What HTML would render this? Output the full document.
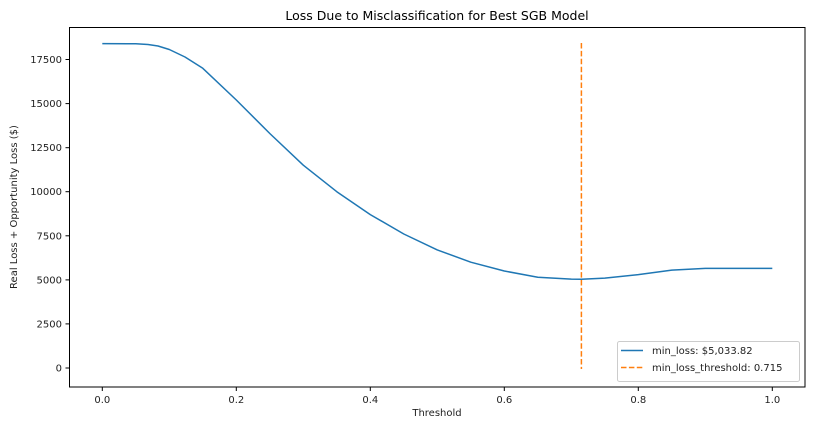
<!DOCTYPE html>
<html><head><style>body{margin:0;background:#fff}svg{font-family:"DejaVu Sans","Liberation Sans",sans-serif}</style></head>
<body>
<svg width="819" height="424" xmlns="http://www.w3.org/2000/svg">
<rect width="819" height="424" fill="#fff"/>
<text x="437" y="20" font-size="12.5" text-anchor="middle" fill="#000">Loss Due to Misclassification for Best SGB Model</text>
<rect x="69.5" y="27.5" width="735.5" height="359.5" fill="none" stroke="#000" stroke-width="1"/>
<g stroke="#000" stroke-width="1">
<line x1="102.3" y1="387" x2="102.3" y2="391"/><line x1="236.3" y1="387" x2="236.3" y2="391"/><line x1="370.3" y1="387" x2="370.3" y2="391"/><line x1="504.3" y1="387" x2="504.3" y2="391"/><line x1="638.3" y1="387" x2="638.3" y2="391"/><line x1="772.3" y1="387" x2="772.3" y2="391"/>
<line x1="65.5" y1="368" x2="69.5" y2="368"/><line x1="65.5" y1="323.9" x2="69.5" y2="323.9"/><line x1="65.5" y1="279.9" x2="69.5" y2="279.9"/><line x1="65.5" y1="235.8" x2="69.5" y2="235.8"/><line x1="65.5" y1="191.7" x2="69.5" y2="191.7"/><line x1="65.5" y1="147.7" x2="69.5" y2="147.7"/><line x1="65.5" y1="103.6" x2="69.5" y2="103.6"/><line x1="65.5" y1="59.5" x2="69.5" y2="59.5"/>
</g>
<g font-size="10" fill="#222" text-anchor="middle">
<text x="102.3" y="403">0.0</text><text x="236.3" y="403">0.2</text><text x="370.3" y="403">0.4</text><text x="504.3" y="403">0.6</text><text x="638.3" y="403">0.8</text><text x="772.3" y="403">1.0</text>
<text x="437" y="416">Threshold</text>
</g>
<g font-size="10" fill="#222" text-anchor="end">
<text x="62" y="371.5">0</text><text x="62" y="327.4">2500</text><text x="62" y="283.4">5000</text><text x="62" y="239.3">7500</text><text x="62" y="195.2">10000</text><text x="62" y="151.2">12500</text><text x="62" y="107.1">15000</text><text x="62" y="63">17500</text>
</g>
<text transform="translate(17,207) rotate(-90)" font-size="10" text-anchor="middle" fill="#222">Real Loss + Opportunity Loss ($)</text>
<path d="M102.3,43.6 L135.8,43.8 L148,44.5 L158,46 L169.3,49.5 L185,57 L202.8,68.3 L236.3,100 L269.8,133.5 L303.3,165.2 L336.8,191.7 L370.3,214.6 L403.8,234 L437.3,249.9 L470.8,262.2 L504.3,271 L537.8,277.2 L571.3,279.1 L581.4,279.3 L604.8,278.1 L638.3,274.6 L671.8,270.1 L705.3,268.4 L772.3,268.4" fill="none" stroke="#1f77b4" stroke-width="1.5" stroke-linejoin="round"/>
<line x1="581.4" y1="43" x2="581.4" y2="369" stroke="#ff7f0e" stroke-width="1.5" stroke-dasharray="5.5,2.4"/>
<rect x="617.5" y="341.5" width="182" height="40" rx="2" fill="#fff" stroke="#ccc"/>
<line x1="621" y1="350.5" x2="643" y2="350.5" stroke="#1f77b4" stroke-width="1.5"/>
<line x1="621" y1="367.5" x2="643" y2="367.5" stroke="#ff7f0e" stroke-width="1.5" stroke-dasharray="5.5,2.4"/>
<text x="652" y="354" font-size="10" fill="#222">min_loss: $5,033.82</text>
<text x="652" y="371" font-size="10" fill="#222">min_loss_threshold: 0.715</text>
</svg>
</body></html>
